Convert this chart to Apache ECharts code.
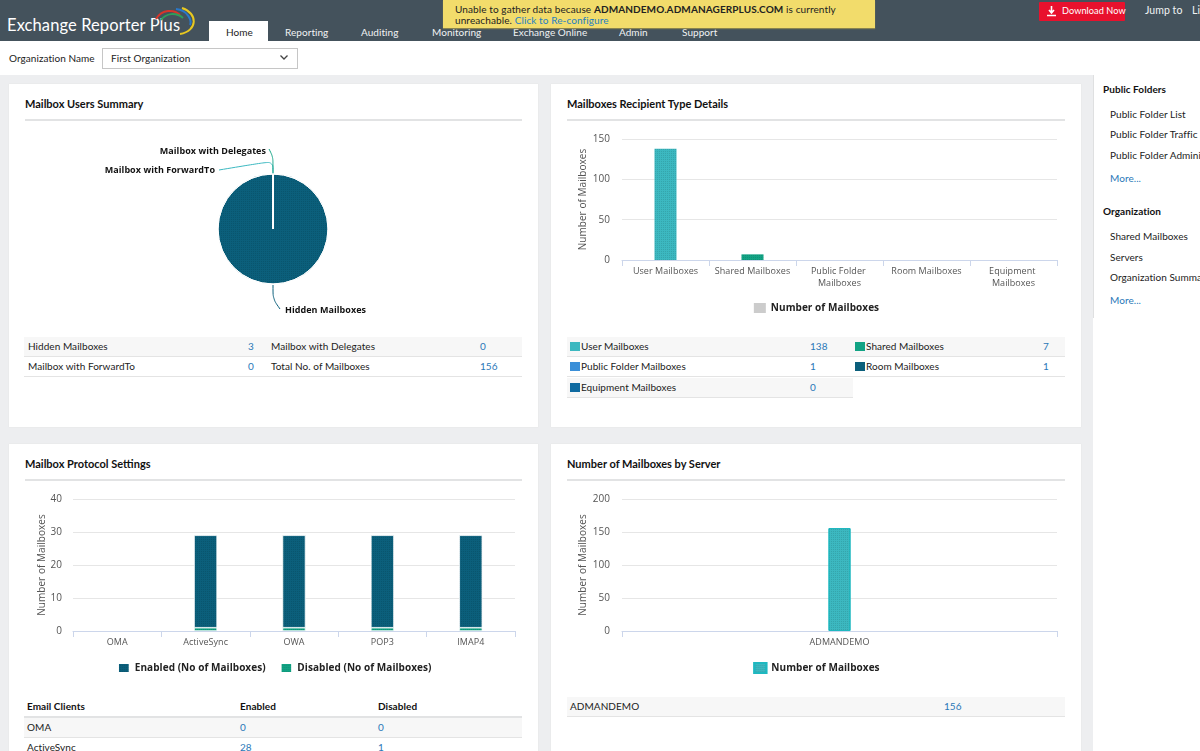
<!DOCTYPE html>
<html>
<head>
<meta charset="utf-8">
<title>Exchange Reporter Plus</title>
<script src="https://cdn.jsdelivr.net/npm/echarts@6/dist/echarts.min.js"></script>
<style>
html, body { margin: 0; padding: 0; width: 1200px; height: 751px; overflow: hidden; }
body { position: relative; background: #edeef0; font: 10px Lato, sans-serif; letter-spacing: .05px; color: #222; }
.box { position: absolute; }
.txt { position: absolute; white-space: nowrap; line-height: 14px; }
.card { position: absolute; background: #fff; box-shadow: 0 0 1px #d8d8d8; }
.title { position: absolute; font-weight: 700; font-size: 11px; letter-spacing: 0; line-height: 14px; color: #111; white-space: nowrap; }
.rule { position: absolute; height: 2px; background: #e2e3e4; }
.row { position: absolute; height: 19px; border-bottom: 1px solid #e4e4e4; }
.grey { background: #f7f7f7; }
.chart { position: absolute; }
.tab { position: absolute; top: 25px; color: #f1f3f4; font-size: 10px; line-height: 14px; white-space: nowrap; }
</style>
</head>
<body>
<div id="page"></div>
<script>
const pieNames = ['Hidden Mailboxes', 'Mailbox with ForwardTo', 'Mailbox with Delegates'];
const pieValues = [3, 0, 0];
const pieColors = ['#0b5f7b', '#3bb8c0', '#12a384'];

const recipientTypes = ['User Mailboxes', 'Shared Mailboxes', 'Public Folder Mailboxes', 'Room Mailboxes', 'Equipment Mailboxes'];
const recipientValues = [138, 7, 1, 1, 0];
const recipientColors = ['#3cb8c0', '#12a384', '#3a8fd8', '#0b5f7b', '#0f6aa0'];

const protocols = ['OMA', 'ActiveSync', 'OWA', 'POP3', 'IMAP4'];
const protocolEnabled = [0, 28, 28, 28, 28];
const protocolDisabled = [0, 1, 1, 1, 1];

const servers = ['ADMANDEMO'];
const serverValues = [156];

const navTabs = [['Reporting', 285], ['Auditing', 361], ['Monitoring', 432], ['Exchange Online', 513], ['Admin', 619], ['Support', 682]];
const sideLinks = [
	['Public Folder List', 107], ['Public Folder Traffic Reports', 127], ['Public Folder Administration', 148],
	['Shared Mailboxes', 229], ['Servers', 250], ['Organization Summary', 270]
];

const FONT = '"Open Sans", sans-serif';
const LINK = '#2a78b8';
const page = document.getElementById('page');

function add(cls, style, html) {
	const el = document.createElement('div');
	el.className = cls;
	Object.assign(el.style, style);
	if (html !== undefined) el.innerHTML = html;
	page.appendChild(el);
	return el;
}
function text(x, y, str, extra) {
	return add('txt', Object.assign({left: x + 'px', top: y + 'px'}, extra || {}), str);
}
function row(x, y, w, grey) {
	add('row' + (grey ? ' grey' : ''), {left: x + 'px', top: y + 'px', width: w + 'px'});
}
function card(x, y, w, h, title) {
	add('card', {left: x + 'px', top: y + 'px', width: w + 'px', height: h + 'px'});
	add('title', {left: (x + 16) + 'px', top: (y + 13) + 'px'}, title);
	add('rule', {left: (x + 16) + 'px', top: (y + 35) + 'px', width: (w - 32) + 'px'});
}
function swatch(x, y, color) {
	add('box', {left: x + 'px', top: y + 'px', width: '10px', height: '9px', background: color});
}

// header
add('box', {left: 0, top: 0, width: '1200px', height: '41px', background: '#44525c'});
text(7, 14, 'Exchange Reporter Plus', {color: '#fff', fontSize: '16.5px', lineHeight: '22px', letterSpacing: '.1px'});
add('box', {left: '152px', top: '7px', width: '46px', height: '30px'},
	'<svg width="46" height="30" fill="none" stroke-width="2">' +
	'<path d="M4 12C10 2 22 2 28 8" stroke="#d8352a"/><path d="M9 13C14 6 24 5 31 11" stroke="#2e9e5b"/>' +
	'<path d="M24 2C36 3 40 14 38 18" stroke="#2a78c8"/><path d="M30 1C46 6 46 24 28 27" stroke="#e8c820"/></svg>');
add('box', {left: '209px', top: '21px', width: '59px', height: '20px', background: '#fff'});
text(226, 25, 'Home', {color: '#222'});
navTabs.forEach(t => add('tab', {left: t[1] + 'px'}, t[0]));
add('box', {left: '443px', top: 0, width: '432px', height: '28px', background: '#f2dc6b', boxShadow: '0 1px 1px #8a8450'});
text(455, 3, 'Unable to gather data because <b>ADMANDEMO.ADMANAGERPLUS.COM</b> is currently', {fontSize: '10px', lineHeight: '12px', letterSpacing: '.1px'});
text(455, 14, 'unreachable. <span style="color:#1f7fc4">Click to Re-configure</span>', {fontSize: '10px', lineHeight: '12px', letterSpacing: '.1px'});
add('box', {left: '1039px', top: '2px', width: '86px', height: '19px', background: '#e8112d', borderRadius: '1px'});
add('box', {left: '1046px', top: '6px', width: '11px', height: '11px'},
	'<svg width="11" height="11" fill="none" stroke="#fff" stroke-width="1.6"><path d="M5.5 0V6M3 4L5.5 7L8 4M1 9.5H10"/></svg>');
text(1062, 4, 'Download Now', {color: '#fff', fontSize: '9.2px'});
text(1145, 3, 'Jump to', {color: '#f1f3f4', fontSize: '10.5px'});
text(1192, 3, 'Li', {color: '#f1f3f4', fontSize: '10.5px'});

// organisation bar
add('box', {left: 0, top: '41px', width: '1200px', height: '34px', background: '#fff'});
text(9, 51, 'Organization Name');
add('box', {left: '102px', top: '48px', width: '194px', height: '19px', border: '1px solid #c6c6c6', background: '#fff'});
text(111, 51, 'First Organization');
add('box', {left: '279px', top: '52px', width: '10px', height: '10px'},
	'<svg width="10" height="10" fill="none" stroke="#444" stroke-width="1.3"><path d="M1.5 3.5L5 7L8.5 3.5"/></svg>');

// right panel
add('box', {left: '1093px', top: '75px', width: '107px', height: '676px', background: '#fff'});
add('box', {left: '1093px', top: '75px', width: '1px', height: '243px', background: '#dfe0e1'});
text(1103, 82, 'Public Folders', {fontWeight: 700, color: '#111'});
text(1103, 204, 'Organization', {fontWeight: 700, color: '#111'});
sideLinks.forEach(l => text(1110, l[1], l[0]));
text(1110, 171, 'More...', {color: LINK});
text(1110, 293, 'More...', {color: LINK});

// cards
card(9, 84, 529, 343, 'Mailbox Users Summary');
card(551, 84, 530, 343, 'Mailboxes Recipient Type Details');
card(9, 444, 529, 320, 'Mailbox Protocol Settings');
card(551, 444, 530, 320, 'Number of Mailboxes by Server');

// mailbox users table
row(24, 337, 498, true);
row(24, 357, 498, false);
text(28, 339, pieNames[0]);
text(248, 339, pieValues[0], {color: LINK});
text(271, 339, pieNames[2]);
text(480, 339, pieValues[2], {color: LINK});
text(28, 359, pieNames[1]);
text(248, 359, pieValues[1], {color: LINK});
text(271, 359, 'Total No. of Mailboxes');
text(480, 359, serverValues[0], {color: LINK});

// recipient table, legend squares come from the same colours as the bars
row(567, 337, 286, true);
row(853, 337, 212, true);
row(567, 357, 286, false);
row(853, 357, 212, false);
row(567, 378, 286, true);
const recipCells = [[570, 581, 810, 339], [855, 866, 1043, 339], [570, 581, 810, 359], [855, 866, 1043, 359], [570, 581, 810, 380]];
recipientTypes.forEach((name, i) => {
	const c = recipCells[i];
	swatch(c[0], c[3] + 3, recipientColors[i]);
	text(c[1], c[3], name);
	text(c[2], c[3], recipientValues[i], {color: LINK});
});

// protocol table
add('rule', {left: '24px', top: '716px', width: '498px'});
text(27, 699, 'Email Clients', {fontWeight: 700, color: '#111'});
text(240, 699, 'Enabled', {fontWeight: 700, color: '#111'});
text(378, 699, 'Disabled', {fontWeight: 700, color: '#111'});
row(24, 718, 498, true);
text(27, 720, protocols[0]);
text(240, 720, protocolEnabled[0], {color: LINK});
text(378, 720, protocolDisabled[0], {color: LINK});
text(27, 740, protocols[1]);
text(240, 740, protocolEnabled[1], {color: LINK});
text(378, 740, protocolDisabled[1], {color: LINK});

// server table
row(567, 697, 498, true);
text(570, 699, servers[0]);
text(944, 699, serverValues[0], {color: LINK});

function makeChart(x, y, w, h, option) {
	const el = add('chart', {left: x + 'px', top: y + 'px', width: w + 'px', height: h + 'px'});
	const chart = echarts.init(el, null, {renderer: 'canvas'});
	chart.setOption(Object.assign({animation: false, textStyle: {fontFamily: FONT}}, option));
	return chart;
}

// the fine dot texture the bars and the pie have in the reference
const dots = {symbol: 'rect', symbolSize: 1, dashArrayX: [1, 1], dashArrayY: [1, 1], color: 'rgba(0,0,0,0.1)'};

function barAxes(cats, yMax, yStep, nameGap) {
	return {
		xAxis: {
			type: 'category',
			data: cats,
			z: 5,
			axisLine: {lineStyle: {color: '#ccd6eb', width: 1}},
			axisTick: {show: true, length: 6, lineStyle: {color: '#ccd6eb'}},
			axisLabel: {color: '#555', fontSize: 9, interval: 0, margin: 6, width: 84, overflow: 'break', lineHeight: 11.5, fontFamily: FONT}
		},
		yAxis: {
			type: 'value',
			min: 0,
			max: yMax,
			interval: yStep,
			name: 'Number of Mailboxes',
			nameLocation: 'middle',
			nameGap: nameGap,
			nameMoveOverlap: false,
			nameTextStyle: {color: '#555', fontSize: 10, fontFamily: FONT},
			axisLine: {show: false},
			axisTick: {show: false},
			axisLabel: {color: '#555', fontSize: 10, margin: 12, padding: [2, 0, 0, 0], fontFamily: FONT},
			splitLine: {lineStyle: {color: '#e6e6e6', width: 1}}
		}
	};
}
function legendStyle(top, names) {
	return {
		top: top,
		left: 'center',
		data: names,
		itemWidth: 12,
		itemHeight: 10,
		itemGap: 15,
		icon: 'rect',
		textStyle: {color: '#222', fontSize: 10, fontWeight: 700, fontFamily: FONT}
	};
}

// pie
const pieLabelPos = [
	{x: 276, y: 185, align: 'left', line: [[264, 160], [264, 174], [271, 184]]},
	{x: 206, y: 45, align: 'right', line: [[264, 50], [264, 36], [210, 45]]},
	{x: 257, y: 26, align: 'right', line: [[264, 50], [264, 32], [260, 24]]}
];
makeChart(9, 125, 529, 205, {
	series: [{
		type: 'pie',
		center: [264, 104],
		radius: 55,
		startAngle: 90,
		stillShowZeroSum: true,
		data: pieNames.map((name, i) => ({name, value: pieValues[i], itemStyle: {color: pieColors[i]}})),
		itemStyle: {borderColor: '#fff', borderWidth: 1, decal: dots},
		label: {color: '#111', fontSize: 9, fontWeight: 700, fontFamily: FONT, formatter: '{b}'},
		labelLine: {show: true, smooth: 0.3, lineStyle: {width: 1}},
		labelLayout: params => {
			const p = pieLabelPos[params.dataIndex];
			return {x: p.x, y: p.y, align: p.align, verticalAlign: 'middle', labelLinePoints: p.line};
		}
	}]
});

// recipient types, a bar of 1 is under a pixel tall and does not show in the reference
makeChart(551, 125, 530, 195, Object.assign(barAxes(recipientTypes, 150, 50, 34), {
	grid: {left: 71, right: 24, top: 14, height: 121},
	legend: legendStyle(173, ['Number of Mailboxes']),
	series: [{
		name: 'Number of Mailboxes',
		type: 'bar',
		barWidth: 22,
		itemStyle: {color: '#cccccc'},
		data: recipientValues.map((v, i) => ({value: v, itemStyle: {color: recipientColors[i], decal: dots, opacity: v < 2 ? 0 : 1}}))
	}]
}));

// protocols
const protoAxes = barAxes(protocols, 40, 10, 26);
protoAxes.yAxis.axisLabel.margin = 11;
makeChart(9, 485, 529, 195, Object.assign(protoAxes, {
	grid: {left: 64, right: 23, top: 14, height: 132},
	legend: legendStyle(172, ['Enabled (No of Mailboxes)', 'Disabled (No of Mailboxes)']),
	series: [
		{name: 'Disabled (No of Mailboxes)', type: 'bar', stack: 'p', barWidth: 23, itemStyle: {color: '#12a384', borderColor: '#fff', borderWidth: 0.5, decal: dots}, data: protocolDisabled},
		{name: 'Enabled (No of Mailboxes)', type: 'bar', stack: 'p', barWidth: 23, itemStyle: {color: '#0b5f7b', borderColor: '#fff', borderWidth: 0.5, decal: dots}, data: protocolEnabled}
	]
}));

// servers
makeChart(551, 485, 530, 195, Object.assign(barAxes(servers, 200, 50, 34), {
	grid: {left: 71, right: 24, top: 14, height: 132},
	legend: legendStyle(172, ['Number of Mailboxes']),
	series: [{
		name: 'Number of Mailboxes',
		type: 'bar',
		barWidth: 22,
		itemStyle: {color: '#3cb8c0', borderColor: '#1fb8c0', borderWidth: 1, decal: dots},
		data: serverValues
	}]
}));
</script>
</body>
</html>
